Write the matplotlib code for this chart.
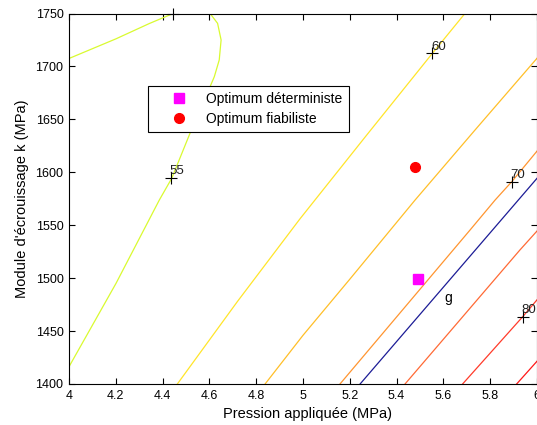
import matplotlib
matplotlib.use("Agg")
import matplotlib.pyplot as plt
from matplotlib.ticker import FuncFormatter

plt.rcParams['font.family'] = ['Liberation Sans', 'DejaVu Sans']

# Iso-value curves of the objective (pressure [MPa], hardening modulus k [MPa])
c55_top_p = [4.0, 4.2, 4.343, 4.445]
c55_top_k = [1707.5, 1726.0, 1740.5, 1750.0]

c55_p = [4.603, 4.635, 4.650, 4.642, 4.621, 4.603, 4.560, 4.517, 4.439, 4.386, 4.201, 4.0]
c55_k = [1750.0, 1740.7, 1725.0, 1706.1, 1690.3, 1680.9, 1658.8, 1636.8, 1594.3, 1573.8, 1495.1, 1416.3]

c60_p = [4.463, 4.72, 4.987, 5.268, 5.553, 5.692]
c60_k = [1400.0, 1478.0, 1556.0, 1634.0, 1712.4, 1750.0]

c65_p = [4.838, 5.0, 5.2, 5.479, 5.735, 6.0]
c65_k = [1400.0, 1446.0, 1499.0, 1573.8, 1639.9, 1707.7]

c70_p = [5.158, 5.714, 5.821, 5.892, 6.0]
c70_k = [1400.0, 1545.5, 1573.8, 1591.1, 1620.0]

c75_p = [5.436, 5.927, 6.0]
c75_k = [1400.0, 1526.6, 1544.5]

c80_p = [5.682, 5.939, 6.0]
c80_k = [1400.0, 1463.6, 1479.5]

c85_p = [5.913, 6.0]
c85_k = [1400.0, 1421.5]

# Limit-state curve g = 0
g_p = [5.244, 6.0]
g_k = [1400.0, 1594.3]

# Contour label positions and values
label_p = [4.437, 5.553, 5.892, 5.939]
label_k = [1594.5, 1712.4, 1591.1, 1463.6]
label_txt = ["55", "60", "70", "80"]
edge_mark_p = [4.445]
edge_mark_k = [1750.0]

# Optima
det_p, det_k = [5.49], [1499.0]
fia_p, fia_k = [5.48], [1605.0]

x_ticks = [4.0, 4.2, 4.4, 4.6, 4.8, 5.0, 5.2, 5.4, 5.6, 5.8, 6.0]
y_ticks = [1400, 1450, 1500, 1550, 1600, 1650, 1700, 1750]

fig = plt.figure(figsize=(5.37, 4.25), dpi=100)
ax = fig.add_axes([69 / 537, 41 / 425, 468 / 537, 370.5 / 425])

curves = [
    (c55_top_p, c55_top_k, '#d9fa30'),
    (c55_p, c55_k, '#d9fa30'),
    (c60_p, c60_k, '#ffe52a'),
    (c65_p, c65_k, '#ffbf28'),
    (c70_p, c70_k, '#ff9530'),
    (c75_p, c75_k, '#ff6a35'),
    (c80_p, c80_k, '#ff3b2a'),
    (c85_p, c85_k, '#ff1818'),
]
for px, py, col in curves:
    ax.plot(px, py, color=col, lw=0.9)

ax.plot(g_p, g_k, color='#1c1c96', lw=0.9)
ax.text(5.62, 1481, 'g', fontsize=10, ha='center', va='center')

ax.plot(label_p, label_k, ls='none', marker='+', color='black', ms=8, mew=0.8)
ax.plot(edge_mark_p, edge_mark_k, ls='none', marker='+', color='black', ms=8, mew=0.8,
        clip_on=False)
for p, k, t in zip(label_p, label_k, label_txt):
    ax.annotate(t, (p, k), xytext=(-1.0, 2.6), textcoords='offset points',
                fontsize=9.5, ha='left', va='baseline', color='#202020')

ax.plot(det_p, det_k, ls='none', marker='s', color='magenta', ms=7,
        label='Optimum déterministe')
ax.plot(fia_p, fia_k, ls='none', marker='o', color='red', ms=7,
        label='Optimum fiabiliste')

ax.set_xlim(4, 6)
ax.set_ylim(1400, 1750)
ax.set_xticks(x_ticks)
ax.set_yticks(y_ticks)
ax.xaxis.set_major_formatter(FuncFormatter(lambda v, _: f"{v:g}"))
ax.tick_params(direction='in', length=4, width=0.8, top=True, right=True,
               labelsize=9, pad=4)
for s in ax.spines.values():
    s.set_linewidth(0.8)

ax.set_xlabel('Pression appliquée (MPa)', fontsize=10.5)
ax.set_ylabel("Module d'écrouissage k (MPa)", fontsize=10.5)
ax.xaxis.set_label_coords(0.51, -0.062)
ax.yaxis.set_label_coords(-0.086, 0.5)

leg = ax.legend(loc='upper left', bbox_to_anchor=(0.1688, 0.8043), borderaxespad=0,
                fontsize=10, frameon=True, fancybox=False, framealpha=1,
                borderpad=0.45, handlelength=3.6, handletextpad=0.15,
                labelspacing=0.4, numpoints=1)
leg.get_frame().set_edgecolor('black')
leg.get_frame().set_linewidth(0.8)

fig.savefig('out.png', dpi=100)
